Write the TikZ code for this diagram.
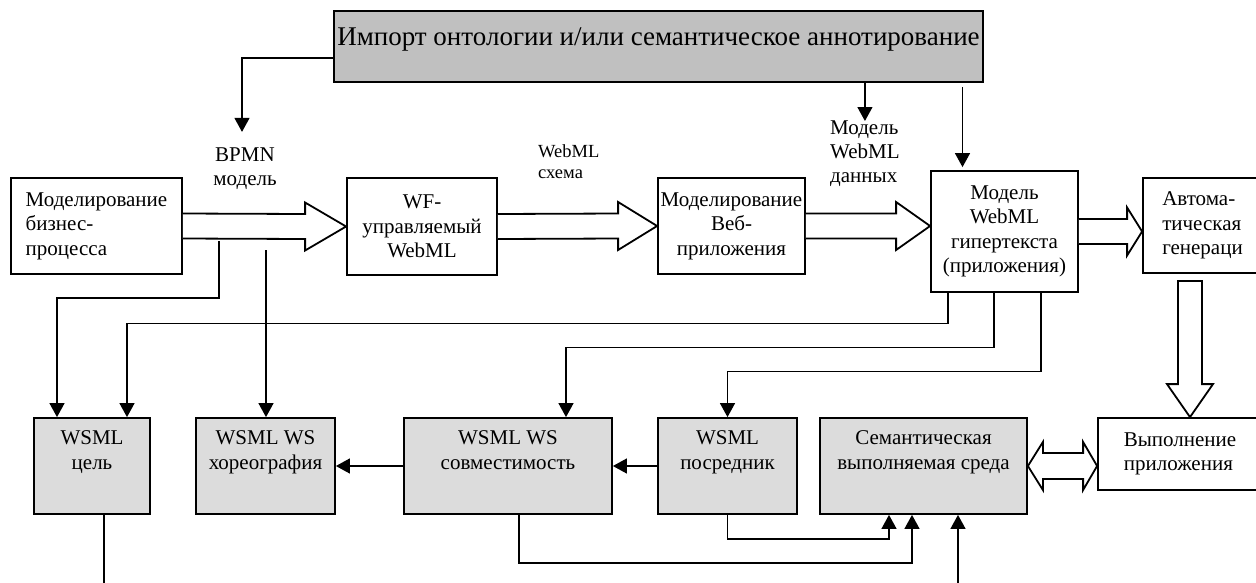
\documentclass[tikz,border=0pt]{standalone}
\usepackage{fontspec}
\setmainfont{Liberation Serif}
\usetikzlibrary{arrows.meta,calc}
\usepackage{xcolor}
\definecolor{colorc0c0c0}{HTML}{C0C0C0}
\definecolor{colordcdcdc}{HTML}{DCDCDC}

\newcommand{\hollowarrow}[3][41]{%
  \draw[fatline] ($(#2)+(0,-12.5)$) -- ($(#3)+(-#1,-12.5)$) -- ($(#3)+(-#1,-24)$) -- (#3)
    -- ($(#3)+(-#1,24)$) -- ($(#3)+(-#1,12.5)$) -- ($(#2)+(0,12.5)$);}

\begin{document}
\begin{tikzpicture}
    [x=1pt, y=-1pt,
     >={Triangle[width=15pt,length=14pt]},  % Uniform arrow style
     whitebox/.style={draw, line width=1.8pt, fill=white, inner sep=1pt, align=center,
                      font=\fontsize{21}{24.5}\selectfont},
     graybox/.style={whitebox, fill=colordcdcdc},
     lbl/.style={inner sep=0pt, align=left, font=\fontsize{21}{24}\selectfont},
     link/.style={line width=1.3pt},
     fatline/.style={line width=1.8pt, fill=white, line join=miter},
    ]

\useasboundingbox (0,0) rectangle (1256,582);
\clip (0,0) rectangle (1256,582);

\node[draw, line width=1.8pt, fill=colorc0c0c0, minimum width=649pt, minimum height=71pt,
      font=\fontsize{27}{30}\selectfont, text height=11pt, text depth=14pt]
      (box_imp) at (658.5,46.5) {Импорт онтологии и/или семантическое аннотирование};

\node[whitebox, align=left, minimum width=171pt, minimum height=96pt] (box_bp) at (96.5,226) {Моделирование\\бизнес-\\процесса};
\node[whitebox, minimum width=150pt, minimum height=97pt] (box_wf) at (422,226.5) {WF-\\управляемый\\WebML};
\node[whitebox, minimum width=147pt, minimum height=96pt] (box_web) at (731.5,226) {Моделирование\\Веб-\\приложения};
\node[whitebox, minimum width=147pt, minimum height=121pt] (box_ht) at (1004.5,231.5) {Модель\\WebML\\гипертекста\\(приложения)};
\node[whitebox, align=left, minimum width=119pt, minimum height=95pt] (box_gen) at (1202.5,225.5) {Автома-\\тическая\\генераци};

\node[graybox, minimum width=116pt, minimum height=96pt] (box_goal) at (92,466) {WSML\\цель\\\strut};
\node[graybox, minimum width=139pt, minimum height=96pt] (box_chor) at (265.5,466) {WSML WS\\хореография\\\strut};
\node[graybox, minimum width=208pt, minimum height=96pt] (box_comp) at (508,466) {WSML WS\\совместимость\\\strut};
\node[graybox, minimum width=139pt, minimum height=96pt] (box_med) at (727.5,466) {WSML\\посредник\\\strut};
\node[graybox, minimum width=207pt, minimum height=96pt] (box_sem) at (923.5,466) {Семантическая\\выполняемая среда\\\strut};
\node[whitebox, align=left, minimum width=164pt, minimum height=72pt] (box_run) at (1180,454) {Выполнение\\приложения};

\node[lbl, align=center] (lbl_bpmn) at (245,169) {BPMN\\модель};
\node[lbl, anchor=north west, font=\fontsize{18.5}{21}\selectfont] (lbl_schema) at (538,144) {WebML\\схема};
\node[lbl, anchor=north west] (lbl_data) at (830,121) {Модель\\WebML\\данных};

\hollowarrow{box_bp.east}{box_wf.west}
\hollowarrow[39]{box_wf.east}{box_web.west}
\coordinate (ht_tip) at (box_web.east -| box_ht.west);
\hollowarrow[34]{box_web.east}{ht_tip}
\coordinate (gen_tip) at (box_ht.east -| box_gen.west);
\hollowarrow[15]{box_ht.east}{gen_tip}

\coordinate (run_tip) at ($(box_run.north)+(10,0)$);
\coordinate (gen_out) at ($(run_tip |- box_gen.south)+(0,7)$);
\draw[fatline] ($(gen_out)+(-12,0)$) -- ($(run_tip)+(-12,-33)$) -- ($(run_tip)+(-23,-33)$) -- (run_tip)
    -- ($(run_tip)+(23,-33)$) -- ($(run_tip)+(12,-33)$) -- ($(gen_out)+(12,0)$) -- cycle;

\coordinate (run_in) at (box_sem.east -| box_run.west);
\draw[fatline] (box_sem.east) -- ++(15,-24) -- ++(0,11) -- ($(run_in)+(-14,-13)$) -- ++(0,-11) -- (run_in)
    -- ++(-14,24) -- ++(0,-11) -- ($(box_sem.east)+(15,13)$) -- ++(0,11) -- cycle;

\draw[link,->] ($(box_imp.west)+(0,11.5)$) -| ($(lbl_bpmn.north)+(-3,-16)$);
\draw[link,->] (lbl_data.north |- box_imp.south) -- (lbl_data.north);
\coordinate (ht_in) at ($(box_ht.north)+(-42,0)$);
\draw[link,->] ($(ht_in |- box_imp.south)+(0,4)$) -- ($(ht_in)+(0,-3)$);

\coordinate (bp_a) at (219,241);
\coordinate (bp_b) at (266,250);
\draw[link,->] (bp_a) -- ++(0,57) -| ($(box_goal.north)+(-35,0)$);
\draw[link,->] (bp_b) -- (bp_b |- box_chor.north);
\draw[link,->] ($(box_ht.south)+(-56.5,0)$) -- ++(0,30.5) -| ($(box_goal.north)+(35,0)$);
\draw[link,->] ($(box_ht.south)+(-10.5,0)$) -- ++(0,54.5) -| ($(box_comp.north)+(58,0)$);
\draw[link,->] ($(box_ht.south)+(36.5,0)$) -- ++(0,78.5) -| (box_med.north);
\draw[link,->] (box_med.west) -- (box_comp.east);
\draw[link,->] (box_comp.west) -- (box_chor.east);
\draw[link,->] ($(box_comp.south)+(11,0)$) -- ++(0,48) -| ($(box_sem.south)+(-11.5,0)$);
\draw[link,->] (box_med.south) -- ++(0,24) -| ($(box_sem.south)+(-34.5,0)$);
\coordinate (sem_in) at (958,590);
\draw[link,->] (sem_in) -- (sem_in |- box_sem.south);
\coordinate (goal_out) at (104,590);
\draw[link] (goal_out |- box_goal.south) -- (goal_out);

\end{tikzpicture}
\end{document}
